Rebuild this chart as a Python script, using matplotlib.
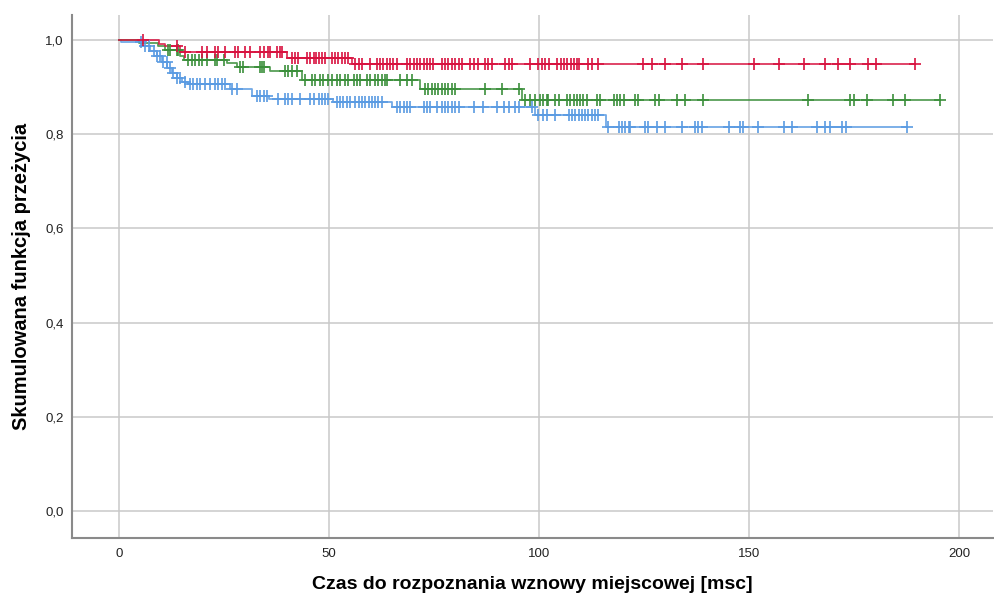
import numpy as np
import matplotlib.pyplot as plt

plt.rcParams['font.family'] = ['Liberation Sans', 'DejaVu Sans']

# Kaplan-Meier steps: event times [msc] and survival after each step
red_event_t = [9.5, 11.0, 14.5, 40.0, 55.5]
red_event_s = [0.991, 0.987, 0.975, 0.962, 0.948]
red_censor_t = [5.7, 13.7, 15.7, 19.7, 20.9, 22.9, 23.6, 25.2, 27.6, 28.4, 30.0, 31.2,
                33.6, 34.4, 35.5, 36.0, 37.5, 38.3, 38.7, 41.1, 41.9, 42.7, 44.7, 45.5,
                46.3, 46.9, 47.5, 48.3, 49.0, 50.6, 51.4, 52.2, 53.0, 53.8, 54.6, 56.2,
                57.0, 57.8, 59.8, 61.4, 62.1, 62.9, 63.7, 64.5, 65.3, 66.1, 68.5, 69.3,
                70.1, 70.9, 71.7, 72.5, 73.3, 74.0, 74.8, 76.8, 77.6, 78.4, 79.2, 80.0,
                80.8, 81.6, 83.6, 84.4, 85.5, 87.1, 87.9, 88.7, 91.9, 92.7, 93.5, 97.9,
                99.8, 100.6, 101.4, 102.3, 104.3, 105.1, 105.9, 106.7, 107.5, 108.3,
                109.0, 109.4, 111.7, 112.5, 114.1, 124.8, 126.8, 130.0, 134.0, 139.0,
                151.0, 157.0, 163.1, 168.1, 171.0, 174.0, 178.2, 180.2, 189.5]

green_event_t = [4.8, 9.3, 11.0, 14.4, 15.5, 25.6, 28.0, 36.0, 43.5, 71.7, 95.9]
green_event_s = [0.994, 0.987, 0.979, 0.966, 0.957, 0.951, 0.943, 0.933, 0.914, 0.895, 0.873]
green_censor_t = [11.6, 12.1, 13.7, 14.0, 16.5, 17.3, 18.1, 18.9, 19.7, 20.9, 22.9, 23.3,
                  25.0, 28.8, 29.6, 33.6, 34.0, 34.4, 39.5, 40.3, 41.1, 42.3, 44.3, 45.9,
                  46.7, 47.9, 48.6, 49.8, 50.6, 51.8, 52.6, 53.8, 54.6, 55.8, 56.6, 57.4,
                  59.0, 59.8, 61.0, 61.7, 62.5, 63.3, 63.7, 66.9, 68.5, 69.7, 72.9, 73.6,
                  74.5, 75.2, 76.0, 76.8, 77.6, 78.4, 79.2, 80.0, 87.1, 91.1, 95.1, 96.7,
                  97.9, 99.0, 100.2, 101.0, 101.8, 102.2, 103.8, 104.6, 106.6, 107.4,
                  108.2, 109.0, 109.8, 110.5, 111.4, 113.7, 114.5, 117.7, 118.5, 119.3,
                  120.1, 122.9, 123.6, 127.6, 128.4, 132.8, 134.8, 139.0, 163.9, 174.0,
                  174.8, 178.0, 184.2, 187.1, 195.5]

blue_event_t = [0.5, 5.4, 7.4, 9.0, 10.2, 11.5, 12.5, 13.7, 15.0, 16.5, 26.4, 31.6,
                35.6, 51.0, 64.9, 99.0, 116.0]
blue_event_s = [0.996, 0.986, 0.977, 0.965, 0.952, 0.940, 0.929, 0.920, 0.911, 0.906,
                0.895, 0.881, 0.875, 0.869, 0.858, 0.841, 0.815]
blue_censor_t = [5.2, 6.2, 7.2, 8.2, 9.0, 9.8, 10.5, 11.4, 12.1, 12.9, 13.7, 14.5, 15.7,
                 16.9, 17.7, 18.5, 19.3, 20.5, 21.7, 22.9, 23.6, 24.5, 25.2, 26.8, 28.0,
                 32.8, 33.6, 34.4, 35.2, 37.9, 39.5, 40.3, 41.1, 43.1, 45.5, 46.3, 47.5,
                 48.3, 49.0, 49.8, 51.8, 52.6, 53.4, 54.2, 55.0, 56.2, 57.0, 57.8, 58.6,
                 59.4, 60.2, 61.0, 61.7, 62.5, 66.1, 66.9, 67.7, 68.5, 69.3, 72.5, 73.3,
                 74.0, 75.6, 76.8, 77.6, 78.4, 79.2, 80.0, 80.8, 84.4, 86.7, 89.9, 91.5,
                 92.7, 94.3, 95.1, 98.3, 99.8, 101.0, 101.8, 103.8, 107.0, 107.8, 108.6,
                 109.4, 110.2, 111.0, 111.7, 112.5, 113.3, 114.1, 116.3, 118.9, 119.7,
                 120.5, 121.3, 121.7, 125.2, 126.0, 128.0, 130.0, 134.0, 137.1, 137.9,
                 138.7, 145.1, 147.9, 148.6, 152.0, 158.2, 160.2, 166.1, 168.1, 169.1,
                 172.1, 172.9, 187.5]

groups = [
    (blue_event_t, blue_event_s, blue_censor_t, '#5a9be2'),
    (green_event_t, green_event_s, green_censor_t, '#3b8f3b'),
    (red_event_t, red_event_s, red_censor_t, '#d8123f'),
]

x_ticks = [0, 50, 100, 150, 200]
y_ticks = [0.0, 0.2, 0.4, 0.6, 0.8, 1.0]

fig = plt.figure(figsize=(9.95, 5.96), dpi=100)
ax = fig.add_axes([0.0724, 0.0973, 0.9256, 0.8777])

for ev_t, ev_s, cens_t, col in groups:
    t_end = max(cens_t)
    t = np.concatenate([[0.0], ev_t, [t_end]])
    s = np.concatenate([[1.0], ev_s, [ev_s[-1]]])
    ax.step(t, s, where='post', color=col, lw=1.3, alpha=0.85, zorder=3)
    ct = np.array(cens_t)
    idx = np.searchsorted(t, ct, side='right') - 1
    ax.plot(ct, s[idx], ls='none', marker='+', ms=9, mew=1.2, color=col, zorder=4)

ax.set_xlim(-11.2, 208)
ax.set_ylim(-0.057, 1.053)
ax.set_xticks(x_ticks)
ax.set_yticks(y_ticks)
ax.set_yticklabels([f'{v:.1f}'.replace('.', ',') for v in y_ticks])
ax.grid(True, color='#c9c9c9', lw=1.1, zorder=0)
ax.set_axisbelow(True)
ax.tick_params(length=0, labelsize=9.5, colors='#222222')
ax.tick_params(axis='x', pad=7)
ax.tick_params(axis='y', pad=6)
for side in ['top', 'right']:
    ax.spines[side].set_visible(False)
for side in ['left', 'bottom']:
    ax.spines[side].set_color('#8a8a8a')
    ax.spines[side].set_linewidth(1.5)

ax.set_xlabel('Czas do rozpoznania wznowy miejscowej [msc]', fontsize=14,
              fontweight='bold', labelpad=12)
ax.set_ylabel('Skumulowana funkcja przeżycia', fontsize=14.5, fontweight='bold',
              labelpad=10)

fig.savefig('out.png', dpi=100)
